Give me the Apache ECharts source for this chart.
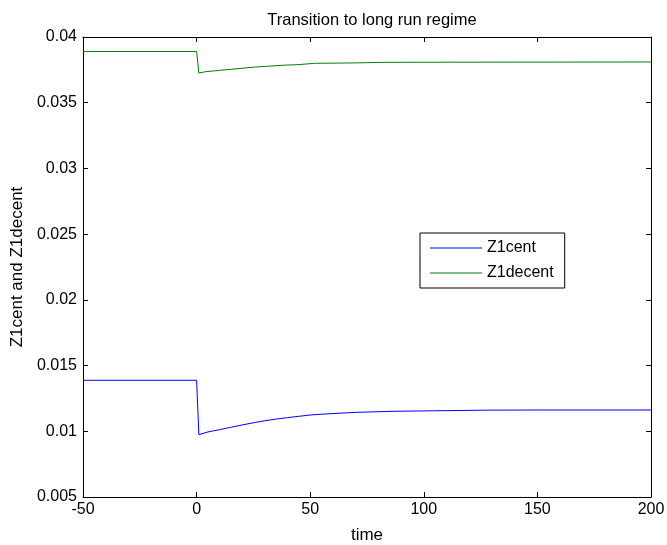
<!DOCTYPE html>
<html>
<head>
<meta charset="utf-8">
<script src="https://cdn.jsdelivr.net/npm/echarts@6/dist/echarts.min.js"></script>
<style>
  html, body { margin: 0; padding: 0; background: #fff; }
  #chart { width: 667px; height: 545px; }
</style>
</head>
<body>
<div id="chart"></div>
<script>
// Time points and simulated paths of the two series
const timeCent = [-50, 0, 1, 5, 10, 15, 20, 26, 30, 35, 40, 45, 50, 57, 60, 68, 70, 86, 100, 129, 150, 200];
const z1cent   = [0.01388, 0.01388, 0.00974, 0.00995, 0.01012, 0.01030, 0.01048, 0.01068, 0.01080, 0.01093, 0.01104, 0.01114, 0.01124, 0.01132, 0.01135, 0.01142, 0.01144, 0.01152, 0.01155, 0.01161, 0.01162, 0.01162];

const timeDecent = [-50, 0, 1, 4, 10, 15, 20, 26, 30, 38, 45, 52, 60, 70, 82, 100, 150, 200];
const z1decent   = [0.03890, 0.03890, 0.03726, 0.03736, 0.03746, 0.03754, 0.03762, 0.03772, 0.03776, 0.03785, 0.03790, 0.03800, 0.03801, 0.03803, 0.03807, 0.03808, 0.03809, 0.03810];

const xTicks = { min: -50, max: 200, step: 50 };
const yTicks = { min: 0.005, max: 0.04, step: 0.005 };

const pairs = (xs, ys) => xs.map((x, i) => [x, ys[i]]);

const font = 'Liberation Sans, Arial, Helvetica, sans-serif';
const ink = '#000';

const chart = echarts.init(document.getElementById('chart'), null, { renderer: 'canvas' });

const tickStyle = { show: true, inside: true, length: 5, lineStyle: { color: ink, width: 1 } };
const frameLine = { show: true, onZero: false, lineStyle: { color: ink, width: 1 } };

chart.setOption({
  animation: false,
  backgroundColor: '#fff',
  title: {
    text: 'Transition to long run regime',
    left: 367, top: 7, textAlign: 'center',
    textStyle: { fontFamily: font, fontSize: 16.5, fontWeight: 'normal', color: ink }
  },
  grid: { left: 83, right: 16, top: 37, bottom: 48, containLabel: false, outerBoundsMode: 'none' },
  legend: {
    orient: 'vertical',
    left: 420, top: 233,
    padding: [7, 11, 7, 10],
    itemGap: 9,
    itemWidth: 52, itemHeight: 1,
    icon: 'rect',
    borderColor: ink, borderWidth: 1,
    backgroundColor: '#fff',
    textStyle: { fontFamily: font, fontSize: 16, color: ink },
    data: ['Z1cent', 'Z1decent']
  },
  xAxis: [{
    type: 'value', min: xTicks.min, max: xTicks.max, interval: xTicks.step,
    name: 'time', nameLocation: 'middle', nameGap: 30,
    nameTextStyle: { fontFamily: font, fontSize: 17, color: ink },
    axisLine: frameLine,
    axisTick: tickStyle,
    axisLabel: { fontFamily: font, fontSize: 16, color: ink, margin: 5 },
    splitLine: { show: false }
  }, {
    type: 'value', position: 'top', min: xTicks.min, max: xTicks.max, interval: xTicks.step,
    axisLine: frameLine,
    axisTick: tickStyle, axisLabel: { show: false }, splitLine: { show: false }
  }],
  yAxis: [{
    type: 'value', min: yTicks.min, max: yTicks.max, interval: yTicks.step,
    name: 'Z1cent and Z1decent', nameLocation: 'middle', nameGap: 57,
    nameTextStyle: { fontFamily: font, fontSize: 17, color: ink },
    axisLine: frameLine,
    axisTick: tickStyle,
    axisLabel: { fontFamily: font, fontSize: 16, color: ink, margin: 6,
                 formatter: v => String(parseFloat(v.toFixed(4))) },
    splitLine: { show: false }
  }, {
    type: 'value', position: 'right', min: yTicks.min, max: yTicks.max, interval: yTicks.step,
    axisLine: frameLine,
    axisTick: tickStyle, axisLabel: { show: false }, splitLine: { show: false }
  }],
  series: [{
    name: 'Z1cent', type: 'line', xAxisIndex: 0, yAxisIndex: 0,
    data: pairs(timeCent, z1cent), symbol: 'none', smooth: false,
    lineStyle: { color: '#0000ff', width: 1 }, itemStyle: { color: '#0000ff' }
  }, {
    name: 'Z1decent', type: 'line', xAxisIndex: 0, yAxisIndex: 0,
    data: pairs(timeDecent, z1decent), symbol: 'none', smooth: false,
    lineStyle: { color: '#008000', width: 1 }, itemStyle: { color: '#008000' }
  }]
});
</script>
</body>
</html>
